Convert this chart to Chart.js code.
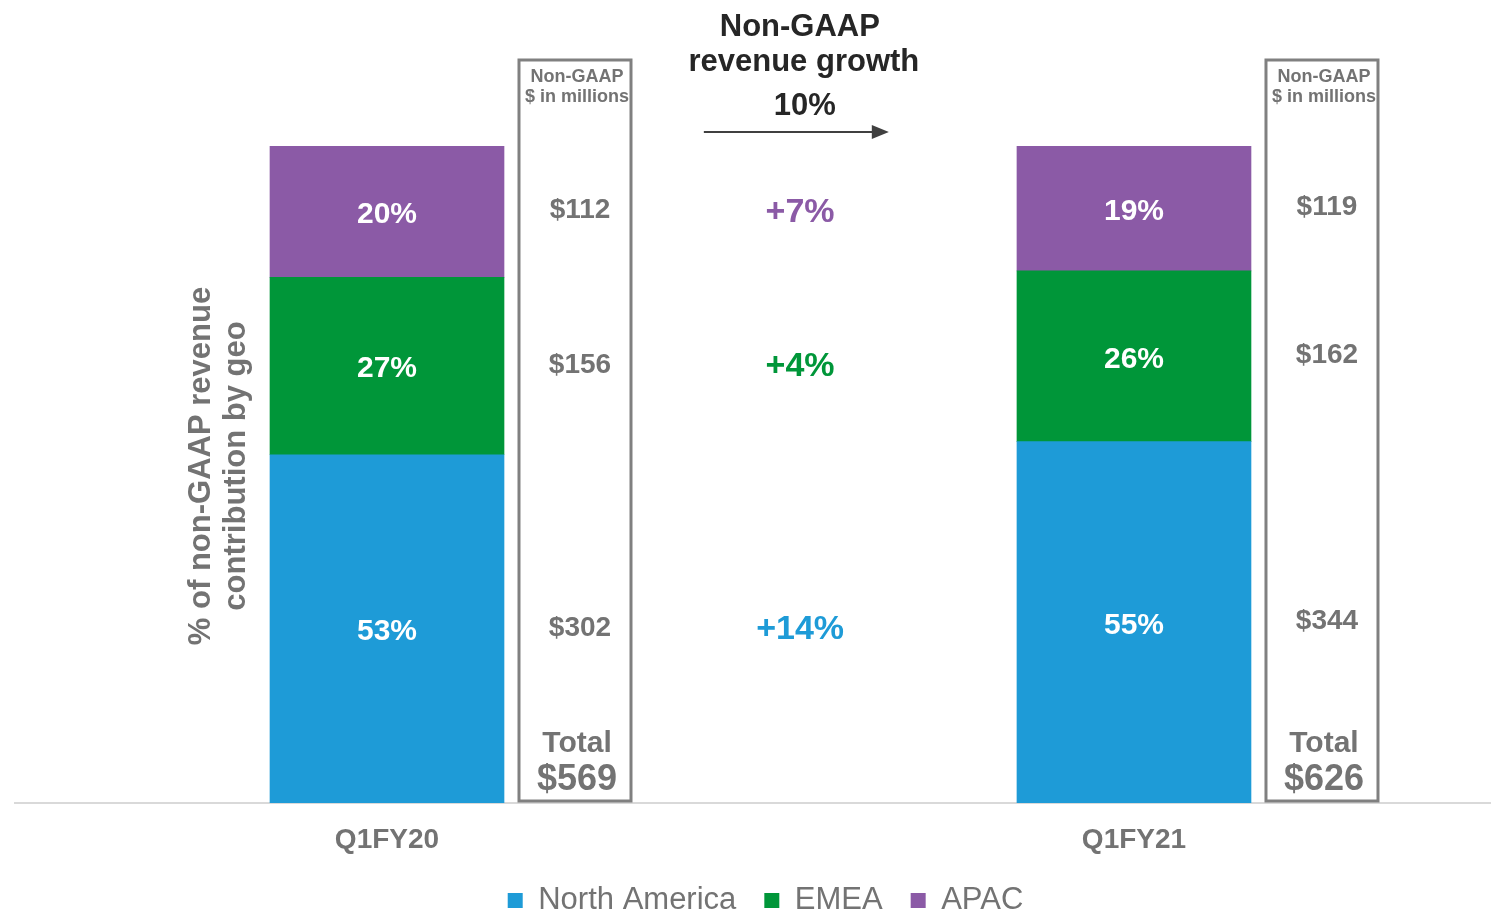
<!DOCTYPE html>
<html>
<head>
<meta charset="utf-8">
<script src="https://cdn.jsdelivr.net/npm/chart.js@4"></script>
<style>
  html, body { margin: 0; padding: 0; background: #fff; }
  #wrap { width: 1491px; height: 911px; }
</style>
</head>
<body>
<div id="wrap"><canvas id="geo-chart"></canvas></div>
<script>
// data
const quarters = ['Q1FY20', 'Q1FY21'];
const regions = ['North America', 'EMEA', 'APAC'];
const naShare = [53, 55];
const emeaShare = [27, 26];
const apacShare = [20, 19];
const naRevenue = [302, 344];
const emeaRevenue = [156, 162];
const apacRevenue = [112, 119];
const totalRevenue = [569, 626];
const regionGrowth = [14, 4, 7];
const totalGrowth = 10;

const colors = ['#1e9bd7', '#009639', '#8b5aa6'];
const grayText = '#737373';
const FONT = 'Liberation Sans, Arial, sans-serif';

// squeeze legend box so it sits lower, and nudge it right a bit
const legendPlace = {
  id: 'legendPlace',
  beforeInit(chart) {
    const fit = chart.legend.fit;
    chart.legend.fit = function () {
      fit.call(this);
      this.height = 54;
    };
  },
  afterLayout(chart) {
    chart.legend.left += 13;
    chart.legend.right += 13;
  }
};

// overlay: labels in bars, $ boxes, growth column, heading, axis title
const overlay = {
  id: 'overlay',
  afterDatasetsDraw(chart) {
    const { ctx, chartArea, scales } = chart;
    const revenue = [naRevenue, emeaRevenue, apacRevenue];
    ctx.save();
    ctx.textAlign = 'center';
    ctx.textBaseline = 'middle';

    chart.data.datasets.forEach((ds, di) => {
      const meta = chart.getDatasetMeta(di);
      meta.data.forEach((bar, i) => {
        const cy = (bar.y + bar.base) / 2;
        ctx.fillStyle = '#fff';
        ctx.font = 'bold 30px ' + FONT;
        ctx.fillText(ds.data[i].y + '%', bar.x, cy + 3);

        // $ value next to the bar
        ctx.fillStyle = grayText;
        ctx.font = 'bold 28px ' + FONT;
        ctx.fillText('$' + revenue[di][i], bar.x + 193, cy - 1);

        // growth column, lined up with first quarter
        if (i === 0) {
          ctx.fillStyle = colors[di];
          ctx.font = 'bold 34px ' + FONT;
          ctx.fillText('+' + regionGrowth[di] + '%', scales.x.getPixelForValue(0.553), cy + 1);
        }
      });
    });

    // boxes with totals
    const first = chart.getDatasetMeta(0).data;
    first.forEach((bar, i) => {
      const left = bar.x + bar.width / 2 + 15;
      const w = 112;
      ctx.strokeStyle = '#808080';
      ctx.lineWidth = 3;
      ctx.strokeRect(left, 60, w, chartArea.bottom - 62);
      const cx = left + w / 2 + 2;
      ctx.fillStyle = grayText;
      ctx.font = 'bold 18px ' + FONT;
      ctx.fillText('Non-GAAP', cx, 77);
      ctx.fillText('$ in millions', cx, 97);
      ctx.font = 'bold 30px ' + FONT;
      ctx.fillText('Total', cx, 744);
      ctx.font = 'bold 36px ' + FONT;
      ctx.fillText('$' + totalRevenue[i], cx, 780);
    });

    // heading + arrow
    const mx = scales.x.getPixelForValue(0.55);
    ctx.fillStyle = '#262626';
    ctx.font = 'bold 31px ' + FONT;
    ctx.fillText('Non-GAAP', mx + 2, 27);
    ctx.fillText('revenue growth', mx + 6, 62);
    ctx.fillText(totalGrowth + '%', mx + 7, 106);
    ctx.strokeStyle = '#404040';
    ctx.fillStyle = '#404040';
    ctx.lineWidth = 2;
    ctx.beginPath();
    ctx.moveTo(mx - 94, 132);
    ctx.lineTo(mx + 77, 132);
    ctx.stroke();
    ctx.beginPath();
    ctx.moveTo(mx + 74, 125);
    ctx.lineTo(mx + 91, 132);
    ctx.lineTo(mx + 74, 139);
    ctx.closePath();
    ctx.fill();

    // rotated axis title
    ctx.translate(218, 466);
    ctx.rotate(-Math.PI / 2);
    ctx.fillStyle = grayText;
    ctx.font = 'bold 31px ' + FONT;
    ctx.fillText('% of non-GAAP revenue', 0, -17);
    ctx.fillText('contribution by geo', 0, 18);
    ctx.restore();
  }
};

const shares = [naShare, emeaShare, apacShare];

new Chart(document.getElementById('geo-chart'), {
  type: 'bar',
  data: {
    datasets: regions.map((name, k) => ({
      label: name,
      data: shares[k].map((v, i) => ({ x: i, y: v })),
      backgroundColor: colors[k],
      barThickness: 234,
      borderWidth: 0
    }))
  },
  options: {
    responsive: true,
    maintainAspectRatio: false,
    animation: false,
    layout: { padding: { top: 146, left: 15, right: 1, bottom: 0 } },
    plugins: {
      tooltip: { enabled: false },
      legend: {
        position: 'bottom',
        labels: {
          boxWidth: 15,
          boxHeight: 15,
          padding: 28,
          color: grayText,
          font: { family: FONT, size: 31 }
        }
      }
    },
    scales: {
      x: {
        type: 'linear',
        stacked: true,
        offset: false,
        min: -0.498,
        max: 1.4766,
        afterBuildTicks: (scale) => {
          scale.ticks = quarters.map((q, i) => ({ value: i }));
        },
        afterFit: (scale) => {
          scale.height = 54;
        },
        grid: { display: false, drawTicks: false },
        border: { display: true, color: '#d9d9d9', width: 2 },
        ticks: {
          autoSkip: false,
          maxRotation: 0,
          padding: 20,
          color: grayText,
          font: { family: FONT, size: 28, weight: 'bold' },
          callback: (v) => quarters[v]
        }
      },
      y: {
        stacked: true,
        min: 0,
        max: 100,
        display: false
      }
    }
  },
  plugins: [legendPlace, overlay]
});
</script>
</body>
</html>
